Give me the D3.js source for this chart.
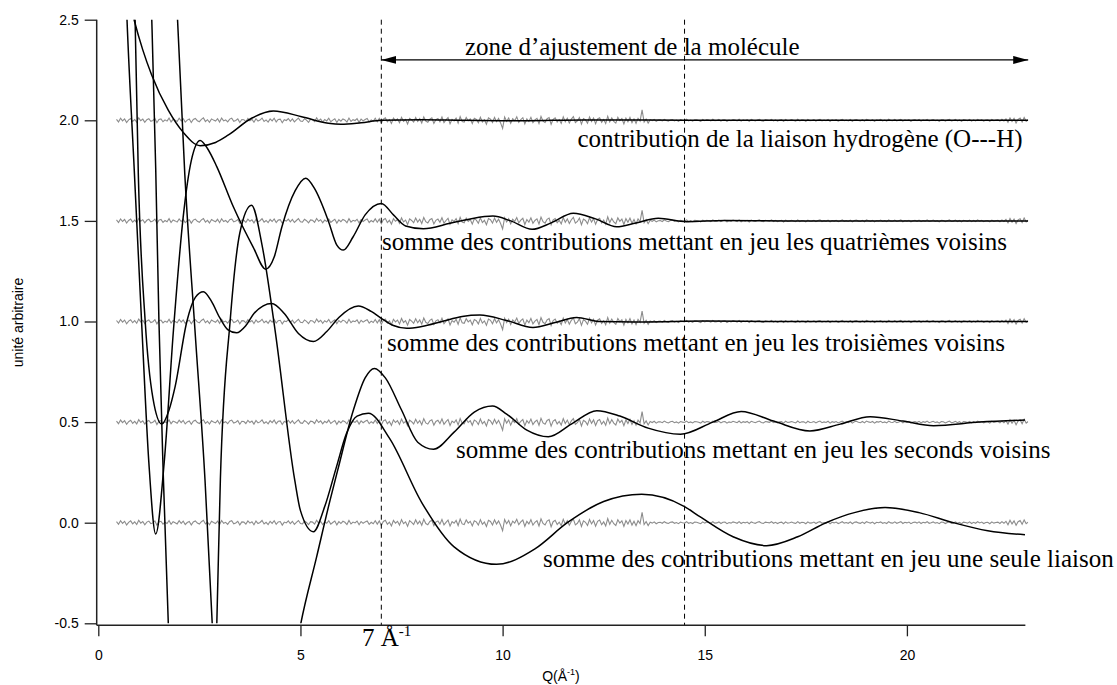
<!DOCTYPE html>
<html><head><meta charset="utf-8">
<script src="https://cdn.jsdelivr.net/npm/d3@7"></script>
<style>body{margin:0;background:#fff}svg{display:block}</style>
</head><body><svg id="c" width="1117" height="685"></svg>
<script>
// ---------- data ----------
const xTicks = [0, 5, 10, 15, 20];
const yTicks = [-0.5, 0, 0.5, 1, 1.5, 2, 2.5];
const xDomain = [0, 23];
const yDomain = [-0.5, 2.5];
const fitZone = [7, 23];          // arrow "zone d'ajustement"
const fitZoneLevel = 2.3;
const dashedQ = [7, 14.5];
const noiseOffsets = [0, 0.5, 1, 1.5, 2];
const noiseStart = 0.45, noiseStep = 0.05;
// residual noise (thousandths)
const noise = [
5,-8,10,-3,7,-11,2,9,-6,4, -9,12,-2,6,-10,3,8,-5,-1,9, -12,4,7,-7,2,-4,11,-8,5,0, -6,10,-3,8,-9,1,6,-11,4,9,
-2,-7,5,12,-6,3,-10,7,1,-4, 8,-9,11,-3,2,-8,6,10,-5,-1, 7,-11,4,3,-7,9,-2,5,-10,8, -4,1,11,-6,2,-9,7,-3,10,-8,
4,6,-12,3,-1,9,-5,7,-8,2, 11,-4,-6,8,1,-10,5,3,-7,12, -2,6,-9,4,-3,10,-7,1,8,-11, 5,-4,7,2,-9,11,-6,3,-1,8,
-10,6,-3,4,9,-8,2,-5,10,-7,
9,-14,6,12,-8,3,-16,11,-2,7, -12,15,-5,4,-18,10,2,-9,14,-6, 8,-13,17,-4,-10,6,12,-15,3,9, -7,16,-11,2,13,-17,5,-3,11,-14,
18,-6,-9,14,-2,7,-16,10,4,-12, 15,-8,3,-19,12,6,-11,14,-7,9, -13,-40,16,-5,11,-15,8,-2,17,-10, 4,13,-18,7,-6,15,-12,2,10,-16,
19,-4,-11,8,14,-20,5,12,-9,3, -15,17,-7,10,-13,6,18,-11,-3,14, -19,9,2,-14,16,-6,11,-17,7,13, -10,4,-16,20,-8,12,-5,-14,15,-2,
9,-18,11,-7,14,-12,7,-15,10,-4, 52,-9,6,-14,
3,-2,4,-5,1,2,-3,5,-1,-4, 2,4,-3,1,-5,3,0,-2,5,-3, 1,-4,3,2,-1,-5,4,-2,3,1, -3,5,-2,-1,4,-4,2,3,-5,1,
-2,4,1,-3,5,-4,2,-1,3,-5, 4,0,-3,2,5,-2,-4,3,1,-1, 5,-3,2,-4,1,3,-5,4,-2,0, 3,-1,-4,5,-3,2,1,-5,4,-2,
-1,3,-4,2,5,-3,1,-2,4,-5, 2,-1,3,-4,0,5,-2,1,-3,4, -5,2,4,-1,-3,3,-4,5,1,-2, 3,-5,2,0,4,-3,1,-4,5,-1,
-2,4,-3,1,5,-4,2,-1,3,-5, 1,3,-2,4,-4,2,-1,5,-3,0, 4,-2,1,-5,3,2,-4,1,5,-3, -1,4,-3,2,-5,3,1,-2,4,-4,
2,-3,5,-1,3,-4,1,2,-5,4, -2,1,3,-4,5,-3,
7,-10,12,-6,9,-13,5,11,-8,14,-5,3
];
// fitted contributions [Q, value]
const hBond = [[0.6,2.75],[0.885,2.5],[1.1,2.35],[1.32,2.225],[1.73,2.05],[2.1,1.94],[2.52,1.874],[2.9,1.89],[3.22,1.927],[3.79,2.01],[4.33,2.046],[5.03,2.018],[5.69,1.985],[6.0,1.98],[6.5,1.988],[7.0,2.0],[8.0,2.003],[9.0,2.0],[10.5,1.998],[12,2.002],[15,2.0],[23,2.0]];
const fourth = [[0.62,3.0],[0.71,2.5],[0.89,1.75],[1.08,0.96],[1.25,0.3],[1.42,-0.056],[1.63,0.3],[1.86,0.96],[2.1,1.52],[2.3,1.8],[2.52,1.90],[2.7,1.86],[2.93,1.77],[3.34,1.57],[3.83,1.37],[4.14,1.26],[4.35,1.32],[4.54,1.47],[4.87,1.65],[5.13,1.712],[5.35,1.66],[5.69,1.5],[5.9,1.38],[6.06,1.355],[6.3,1.42],[6.6,1.53],[7.0,1.587],[7.3,1.53],[7.6,1.475],[8.04,1.461],[8.7,1.488],[9.2,1.51],[9.76,1.524],[10.2,1.5],[10.73,1.458],[11.2,1.49],[11.75,1.538],[12.3,1.51],[12.82,1.471],[13.3,1.49],[13.85,1.513],[14.55,1.496],[15.5,1.502],[17,1.5],[20,1.5],[23,1.5]];
const third = [[0.875,2.9],[0.91,2.5],[0.99,1.73],[1.16,1.0],[1.35,0.62],[1.57,0.49],[1.75,0.56],[1.9,0.676],[2.19,1.0],[2.4,1.12],[2.6,1.148],[2.8,1.1],[3.0,1.02],[3.2,0.96],[3.42,0.944],[3.65,0.98],[3.85,1.04],[4.29,1.09],[4.6,1.04],[4.95,0.94],[5.32,0.90],[5.65,0.95],[5.95,1.02],[6.43,1.077],[6.75,1.05],[7.0,1.016],[7.3,0.98],[7.63,0.966],[8.0,0.975],[8.5,1.0],[9.0,1.025],[9.44,1.032],[10.1,1.005],[10.75,0.97],[11.3,0.995],[11.83,1.02],[12.4,1.0],[13.5,0.998],[15,1.002],[17,1.0],[20,1.0],[23,1.0]];
const second = [[1.9,2.8],[1.96,2.5],[2.14,1.73],[2.39,0.96],[2.64,0.21],[2.82,-0.51],[3.1,-1.4],[3.6,-1.9],[4.2,-1.6],[4.6,-1.0],[5.0,-0.51],[5.4,-0.17],[5.73,0.11],[5.92,0.26],[6.31,0.56],[6.6,0.72],[6.83,0.767],[7.1,0.72],[7.5,0.56],[7.9,0.4],[8.29,0.365],[8.8,0.45],[9.3,0.55],[9.75,0.58],[10.1,0.54],[10.6,0.46],[11.13,0.427],[11.7,0.49],[12.33,0.557],[12.9,0.53],[13.6,0.47],[14.4,0.44],[15.2,0.5],[15.9,0.553],[16.7,0.505],[17.6,0.456],[18.35,0.49],[19.09,0.527],[19.9,0.505],[20.66,0.482],[21.8,0.5],[22.92,0.51]];
const single = [[1.30,2.65],[1.33,2.45],[1.42,1.76],[1.50,1.0],[1.61,0.22],[1.74,-0.55],[1.9,-1.3],[2.2,-1.9],[2.5,-2.0],[2.75,-1.5],[2.93,-0.51],[3.02,0.22],[3.26,1.0],[3.5,1.44],[3.79,1.578],[4.05,1.38],[4.37,0.96],[4.86,0.21],[5.0,0.06],[5.32,-0.045],[5.6,0.08],[5.88,0.27],[6.14,0.444],[6.4,0.53],[6.68,0.544],[7.2,0.42],[8.0,0.1],[8.8,-0.12],[9.85,-0.207],[10.8,-0.13],[11.6,0.0],[12.5,0.105],[13.44,0.141],[14.5,0.08],[14.88,0.03],[15.7,-0.07],[16.53,-0.114],[17.3,-0.07],[18.0,0.0],[18.7,0.05],[19.46,0.075],[20.3,0.05],[21.15,0.0],[22.0,-0.04],[22.92,-0.06]];
const curves = [hBond, fourth, third, second, single];
const labelTexts = [
  "zone d’ajustement de la molécule",
  "contribution de la liaison hydrogène (O---H)",
  "somme des contributions mettant en jeu les quatrièmes voisins",
  "somme des contributions mettant en jeu les troisièmes voisins",
  "somme des contributions mettant en jeu les seconds voisins",
  "somme des contributions mettant en jeu une seule liaison"
];
const yTitle = "unité arbitraire";

// ---------- drawing ----------
const svg = d3.select("#c");
const x = d3.scaleLinear().domain(xDomain).range([98.3, 1028.2]);
const y = d3.scaleLinear().domain(yDomain).range([623.3, 19.7]);
const sans = "'Liberation Sans', Arial, Helvetica, sans-serif";
const serif = "'Liberation Serif', 'Times New Roman', serif";

const defs = svg.append("defs");
defs.append("clipPath").attr("id","clip").append("rect")
  .attr("x", x(0)).attr("y", y(2.5)).attr("width", x(23)-x(0)).attr("height", y(-0.5)-y(2.5));
defs.append("marker").attr("id","arr").attr("markerUnits","userSpaceOnUse")
  .attr("markerWidth",16).attr("markerHeight",8).attr("refX",15).attr("refY",4)
  .attr("orient","auto-start-reverse")
  .append("path").attr("d","M0,0L15,4L0,8Z").attr("fill","#000");

const plot = svg.append("g").attr("clip-path","url(#clip)");
const noisePts = noise.map((n,i)=>[noiseStart + i*noiseStep, n/1000]);
noiseOffsets.forEach(o=>{
  plot.append("path").datum(noisePts)
    .attr("d", d3.line().x(d=>x(d[0])).y(d=>y(o+d[1])))
    .attr("fill","none").attr("stroke","#8c8c8c").attr("stroke-width",1.1);
});
const cl = d3.line().curve(d3.curveMonotoneX).x(d=>x(d[0])).y(d=>y(d[1]));
curves.forEach(c=>{
  plot.append("path").datum(c).attr("d", cl)
    .attr("fill","none").attr("stroke","#000").attr("stroke-width",1.5);
});

// dashed limits
const axisY = 625.3, axisX = 96.7;
dashedQ.forEach(q=>{
  svg.append("line").attr("x1",x(q)).attr("x2",x(q)).attr("y1",y(2.5)).attr("y2",axisY)
    .attr("stroke","#000").attr("stroke-width",1).attr("stroke-dasharray","5,4");
});

// arrow
svg.append("line").attr("x1",x(fitZone[0])).attr("x2",x(fitZone[1]))
  .attr("y1",y(fitZoneLevel)).attr("y2",y(fitZoneLevel))
  .attr("stroke","#000").attr("stroke-width",1.2)
  .attr("marker-start","url(#arr)").attr("marker-end","url(#arr)");

// axes
svg.append("line").attr("x1",axisX).attr("x2",axisX).attr("y1",y(2.5)).attr("y2",axisY)
  .attr("stroke","#222").attr("stroke-width",1.5);
svg.append("line").attr("x1",axisX).attr("x2",x(22.93)).attr("y1",axisY).attr("y2",axisY)
  .attr("stroke","#222").attr("stroke-width",1.5);
const ya = svg.append("g").attr("transform",`translate(${axisX},0)`)
  .call(d3.axisLeft(y).tickValues(yTicks).tickSize(12).tickPadding(6).tickFormat(d=>d.toFixed(1)));
const xa = svg.append("g").attr("transform",`translate(0,${axisY})`)
  .call(d3.axisBottom(x).tickValues(xTicks).tickSize(11).tickPadding(14).tickFormat(d=>String(d)));
[ya,xa].forEach(a=>{
  a.select(".domain").remove();
  a.selectAll(".tick line").attr("stroke","#222").attr("stroke-width",1.3);
  a.selectAll("text").attr("font-family",sans).attr("font-size",14).attr("fill","#000");
});

// axis titles
svg.append("text").attr("transform",`translate(23,${(y(2.5)+axisY)/2}) rotate(-90)`)
  .attr("text-anchor","middle").attr("font-family",sans).attr("font-size",14).text(yTitle);
const xt = svg.append("text").attr("x",561).attr("y",681).attr("text-anchor","middle")
  .attr("font-family",sans).attr("font-size",14);
xt.append("tspan").text("Q(Å");
xt.append("tspan").attr("font-size",9).attr("dy",-6).text("-1");
xt.append("tspan").attr("dy",6).text(")");

// annotations
const ann = [[465,55],[577.5,146.5],[382,249.5],[387,350.5],[456,458],[543,566.5]];
labelTexts.forEach((t,i)=>{
  svg.append("text").attr("x",ann[i][0]).attr("y",ann[i][1])
    .attr("font-family",serif).attr("font-size",25).attr("fill","#000").text(t);
});
const sev = svg.append("text").attr("x",362).attr("y",646).attr("font-family",serif).attr("font-size",25);
sev.append("tspan").text("7 Å");
sev.append("tspan").attr("font-size",15).attr("dy",-10).text("-1");
</script></body></html>
